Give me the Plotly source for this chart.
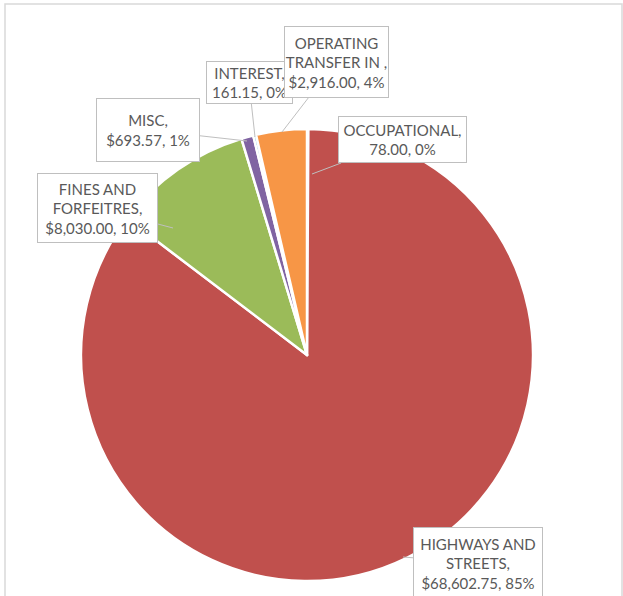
import plotly.graph_objects as go

# ---- data ----
categories = ["OCCUPATIONAL", "HIGHWAYS AND STREETS", "FINES AND FORFEITRES",
              "MISC", "INTEREST", "OPERATING TRANSFER IN"]
values = [78.00, 68602.75, 8030.00, 693.57, 161.15, 2916.00]
label_names = ["OCCUPATIONAL,", "HIGHWAYS AND<br>STREETS,", "FINES AND<br>FORFEITRES,",
               "MISC,", "INTEREST,", "OPERATING<br>TRANSFER IN ,"]
dollar_prefix = [False, True, True, True, False, True]
colors = ["#4F81BD", "#C0504D", "#9BBB59", "#8064A2", "#4BACC6", "#F79646"]

W, H = 623, 596
total = sum(values)

fig = go.Figure(go.Pie(
    labels=categories, values=values, sort=False, direction="clockwise", rotation=0,
    marker=dict(colors=colors, line=dict(color="white", width=2.5)),
    textinfo="none", hoverinfo="label+value+percent",
    domain=dict(x=[81 / W, 533 / W], y=[15 / H, 467 / H]),
    showlegend=False,
))

# callout layout (pixel positions: tip, box centre, box size)
callouts = {
    "INTEREST": dict(tip=(255, 137), box=(249, 82), size=(87, 43)),
    "OPERATING TRANSFER IN": dict(tip=(282, 132), box=(336, 62), size=(105, 72)),
    "MISC": dict(tip=(247, 141), box=(148, 130), size=(104, 64)),
    "FINES AND FORFEITRES": dict(tip=(173, 228), box=(97, 208), size=(121, 70)),
    "OCCUPATIONAL": dict(tip=(312, 174), box=(402, 140), size=(129, 47)),
    "HIGHWAYS AND STREETS": dict(tip=(403, 557), box=(478, 563), size=(130, 72)),
}

annotations = []
for cat in callouts:
    i = categories.index(cat)
    v = values[i]
    pct = round(v / total * 100)
    vtxt = ("$" if dollar_prefix[i] else "") + f"{v:,.2f}"
    text = f"{label_names[i]}<br>{vtxt}, {pct}%"
    c = callouts[cat]
    tx, ty = c["tip"]
    bx, by = c["box"]
    bw, bh = c["size"]
    annotations.append(dict(
        text=text, xref="paper", yref="paper",
        x=tx / W, y=1 - ty / H, ax=bx - tx, ay=by - ty,
        showarrow=True, arrowhead=0, arrowwidth=1, arrowcolor="#bfbfbf", standoff=0,
        bgcolor="white", bordercolor="#bfbfbf", borderwidth=1, borderpad=0,
        width=bw - 2, height=bh - 2, align="center", valign="middle",
        font=dict(family="Lato, Liberation Sans, sans-serif", size=15, color="#595959"),
    ))

fig.update_layout(
    width=W, height=H, margin=dict(l=0, r=0, t=0, b=0),
    paper_bgcolor="white", plot_bgcolor="white",
    annotations=annotations,
    shapes=[dict(type="rect", xref="paper", yref="paper",
                 x0=5 / W, x1=622 / W, y0=-0.05, y1=1 - 4 / H,
                 line=dict(color="#d9d9d9", width=1.5), layer="below")],
)

fig.write_html("out.html", config={"displayModeBar": False},
               post_script="document.body.style.margin='0';document.body.style.overflow='hidden';")
